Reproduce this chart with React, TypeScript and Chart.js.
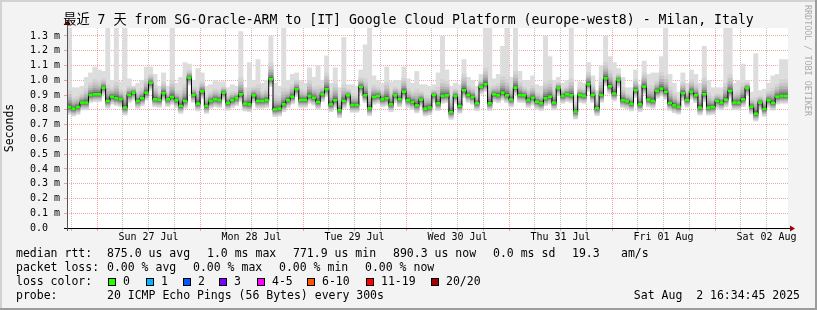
import React, { useEffect, useRef } from "react";
import { Chart, registerables } from "chart.js";

Chart.register(...registerables);

const FONT = "'DejaVu Sans Mono', 'Noto Sans CJK SC', monospace";

const chartTitle =
  "最近 7 天 from SG-Oracle-ARM to [IT] Google Cloud Platform (europe-west8) - Milan, Italy";
const yAxisTitle = "Seconds";
const watermark = "RRDTOOL / TOBI OETIKER";
const dayLabels = ["Sun 27 Jul", "Mon 28 Jul", "Tue 29 Jul", "Wed 30 Jul", "Thu 31 Jul", "Fri 01 Aug", "Sat 02 Aug"];
const firstBinHourOfDay = 17; // first hourly bin starts Jul 26 17:00
const gridStepHours = 6;
const yTickValues = [0, 0.1, 0.2, 0.3, 0.4, 0.5, 0.6, 0.7, 0.8, 0.9, 1.0, 1.1, 1.2, 1.3];
const yMax = 1.354;

// hourly median RTT (ms)
const medianMs = [
  0.819, 0.808, 0.819, 0.849, 0.849, 0.900, 0.905, 0.905, 0.950, 0.860,
  0.889, 0.878, 0.871, 0.815, 0.900, 0.916, 0.860, 0.878, 0.916, 0.982,
  0.871, 0.867, 0.912, 0.871, 0.887, 0.865, 0.826, 0.860, 1.018, 0.900,
  0.842, 0.925, 0.826, 0.860, 0.871, 0.865, 0.916, 0.847, 0.865, 0.878,
  0.905, 0.842,
  0.837, 0.898, 0.860, 0.860, 0.865, 1.007, 0.803, 0.808, 0.837, 0.865,
  0.889, 0.939, 0.867, 0.867, 0.894, 0.882, 0.853, 0.905, 0.939, 0.837,
  0.865, 0.797, 0.860, 0.898, 0.833, 0.833, 0.955, 0.898, 0.810, 0.887,
  0.894, 0.871, 0.878, 0.837, 0.898, 0.871, 0.923, 0.865, 0.853, 0.830,
  0.869, 0.808, 0.815,
  0.900, 0.844, 0.894, 0.898, 0.785, 0.894, 0.826, 0.932, 0.900, 0.887,
  0.844, 0.957, 0.973, 0.844, 0.905, 0.898, 0.916, 0.898, 0.869, 0.950,
  0.900, 0.898, 0.865, 0.882, 0.855, 0.844, 0.878, 0.889, 0.849, 0.946,
  0.894, 0.905, 0.898, 0.788, 0.900, 0.894, 0.973, 0.900, 0.810, 0.900,
  1.013, 0.959, 0.910,
  1.002, 0.865, 0.858, 0.842, 0.932, 0.837, 0.957, 0.869, 0.860, 0.928,
  0.943, 0.921, 0.846, 0.830, 0.821, 0.912, 0.867, 0.923, 0.898, 0.815,
  0.905, 0.815, 0.819, 0.860, 0.849, 0.869, 0.928, 0.849, 0.849, 0.871,
  0.946, 0.821, 0.774, 0.849, 0.806, 0.865, 0.847, 0.889, 0.894, 0.894,
];

// hourly max RTT (ms) - top of the smoke
const maxMs = [
  1.36, 0.95, 0.95, 0.96, 1.02, 1.05, 1.09, 1.07, 1.06, 1.36,
  1.00, 1.36, 0.99, 1.36, 1.01, 0.96, 0.98, 1.00, 1.09, 1.09,
  1.04, 0.96, 1.05, 0.96, 1.36, 0.98, 1.02, 1.12, 1.11, 1.00,
  1.08, 1.05, 0.96, 0.97, 1.00, 0.99, 0.99, 0.95, 0.97, 0.96,
  1.33, 0.95,
  1.12, 1.00, 1.14, 0.98, 1.00, 1.30, 0.98, 0.96, 1.36, 1.00,
  1.04, 1.05, 1.00, 0.98, 1.085, 1.02, 1.10, 1.00, 1.165, 0.98,
  1.085, 0.95, 1.29, 0.97, 0.97, 0.96, 1.07, 1.24, 1.36, 1.03,
  1.00, 0.98, 1.09, 0.99, 1.00, 1.00, 1.09, 1.01, 0.98, 1.06,
  0.97, 0.97, 0.96,
  0.97, 1.05, 1.30, 1.07, 0.96, 0.98, 0.97, 1.14, 1.02, 1.00,
  0.96, 1.04, 1.36, 1.36, 1.01, 1.04, 1.23, 1.36, 1.02, 1.36,
  1.06, 1.00, 1.00, 1.03, 0.97, 0.96, 1.30, 1.16, 1.00, 1.02,
  0.98, 1.00, 1.36, 0.90, 0.99, 0.98, 1.12, 1.03, 0.93, 1.10,
  1.30, 1.16, 1.12,
  1.08, 1.02, 0.95, 0.95, 1.07, 0.97, 1.13, 1.04, 1.05, 1.05,
  1.16, 1.36, 1.04, 0.98, 0.92, 1.05, 0.98, 1.07, 1.04, 0.98,
  1.23, 1.00, 0.95, 0.95, 0.95, 1.36, 1.36, 0.98, 1.00, 1.11,
  1.00, 0.92, 1.18, 0.93, 0.94, 0.98, 1.03, 1.04, 1.14, 1.14,
];

const lossColors = ["#26ff00", "#00b8ff", "#0059ff", "#7e00ff", "#ff00ff", "#ff5500", "#ff0000", "#a10000"];
const lossLabels = ["0", "1", "2", "3", "4-5", "6-10", "11-19", "20/20"];
const rttStats = ["875.0 us avg", "1.0 ms max", "771.9 us min", "890.3 us now", "0.0 ms sd", "19.3", "am/s"];
const lossStats = ["0.00 % avg", "0.00 % max", "0.00 % min", "0.00 % now"];
const probeText = "20 ICMP Echo Pings (56 Bytes) every 300s";
const timestamp = "Sat Aug  2 16:34:45 2025";

// smoke styling (outer -> inner)
const smokeShades = ["#dddddd", "#d3d3d3", "#c6c6c6", "#b5b5b5", "#a0a0a0", "#868686", "#666666"];
const smokeBelow = [0.05, 0.043, 0.036, 0.029, 0.022, 0.015, 0.008];
const smokeAbove = [0, 0.11, 0.085, 0.063, 0.044, 0.028, 0.014];
const medianHalf = 0.009;

const MGRID = "rgba(235,40,40,0.42)";
const GRID = "rgba(120,120,120,0.45)";

export default function App() {
  const ref = useRef<HTMLCanvasElement | null>(null);

  useEffect(() => {
    document.body.style.margin = "0";
    const canvas = ref.current;
    if (!canvas) return;
    const n = medianMs.length;

    const smokeSets = smokeShades.map((color, k) => ({
      type: "bar" as const,
      label: "smoke" + k,
      order: 20 - k,
      grouped: false,
      barPercentage: 1,
      categoryPercentage: 1,
      backgroundColor: color,
      data: medianMs.map((m, i) => {
        const mx = maxMs[i];
        const f = Math.min(1, Math.max(0.35, (mx - m) / 0.2));
        const hi = k === 0 ? mx : Math.min(mx, m + smokeAbove[k] * f);
        return { x: i + 0.5, y: [m - smokeBelow[k], hi] };
      }),
    }));

    const lineSet = {
      type: "line" as const,
      label: "median",
      order: 1,
      borderColor: "#000000",
      borderWidth: 1,
      pointRadius: 0,
      stepped: "before" as const,
      data: [...medianMs.map((m, i) => ({ x: i, y: m })), { x: n, y: medianMs[n - 1] }],
    };

    const greenSet = {
      type: "bar" as const,
      label: "loss0",
      order: 0,
      grouped: false,
      barPercentage: 1,
      categoryPercentage: 1,
      inflateAmount: 0,
      backgroundColor: lossColors[0],
      data: medianMs.map((m, i) => ({ x: i + 0.5, y: [m - medianHalf, m + medianHalf] })),
    };

    const decor = {
      id: "decor",
      beforeDraw(c: any) {
        const ctx = c.ctx;
        const a = c.chartArea;
        ctx.save();
        ctx.fillStyle = "#f3f3f3";
        ctx.fillRect(0, 0, c.width, c.height);
        ctx.fillStyle = "#ffffff";
        ctx.fillRect(a.left, a.top, a.right - a.left, a.bottom - a.top);
        ctx.restore();
      },
      afterDraw(c: any) {
        const ctx = c.ctx;
        const a = c.chartArea;
        ctx.save();
        // axes
        ctx.lineWidth = 1;
        ctx.strokeStyle = "#000000";
        ctx.beginPath();
        ctx.moveTo(a.left - 3, Math.round(a.bottom) + 0.5);
        ctx.lineTo(a.right + 3, Math.round(a.bottom) + 0.5);
        ctx.stroke();
        ctx.strokeStyle = "#555555";
        ctx.beginPath();
        ctx.moveTo(Math.round(a.left) + 0.5, a.bottom + 3);
        ctx.lineTo(Math.round(a.left) + 0.5, a.top - 4);
        ctx.stroke();
        // arrows
        ctx.fillStyle = "#a00000";
        const yb = Math.round(a.bottom) + 0.5;
        ctx.beginPath();
        ctx.moveTo(a.right + 2, yb - 3);
        ctx.lineTo(a.right + 7, yb);
        ctx.lineTo(a.right + 2, yb + 3);
        ctx.closePath();
        ctx.fill();
        const xl = Math.round(a.left) + 0.5;
        ctx.beginPath();
        ctx.moveTo(xl - 3, a.top - 3);
        ctx.lineTo(xl, a.top - 8);
        ctx.lineTo(xl + 3, a.top - 3);
        ctx.closePath();
        ctx.fill();

        // title
        ctx.fillStyle = "#000000";
        ctx.textBaseline = "middle";
        ctx.textAlign = "center";
        ctx.font = `13.2px ${FONT}`;
        ctx.fillText(chartTitle, c.width / 2, 21);

        // watermark
        ctx.save();
        ctx.translate(807, 5);
        ctx.rotate(Math.PI / 2);
        ctx.font = `8.4px ${FONT}`;
        ctx.fillStyle = "#aaaaaa";
        ctx.textAlign = "left";
        ctx.textBaseline = "middle";
        ctx.fillText(watermark, 0, 0);
        ctx.restore();

        // legend
        ctx.font = `11.5px ${FONT}`;
        ctx.textAlign = "left";
        ctx.textBaseline = "middle";
        ctx.fillStyle = "#000000";
        const r1 = 254.5, r2 = 268.5, r3 = 282.5, r4 = 296.5;
        ctx.fillText("median rtt:", 16, r1);
        const rttX = [107, 207, 293, 393, 493, 572, 621];
        rttStats.forEach((t, i) => ctx.fillText(t, rttX[i], r1));
        ctx.fillText("packet loss:", 16, r2);
        const lossX = [107, 193, 279, 365];
        lossStats.forEach((t, i) => ctx.fillText(t, lossX[i], r2));
        ctx.fillText("loss color:", 16, r3);
        const boxX = [108, 146, 183, 219, 257, 307, 366, 431];
        lossLabels.forEach((t, i) => {
          ctx.fillStyle = lossColors[i];
          ctx.fillRect(boxX[i], 278, 8, 8);
          ctx.strokeStyle = "#000000";
          ctx.lineWidth = 1;
          ctx.strokeRect(boxX[i] + 0.5, 278.5, 7, 7);
          ctx.fillStyle = "#000000";
          ctx.fillText(t, boxX[i] + 15, r3);
        });
        ctx.fillText("probe:", 16, r4);
        ctx.fillText(probeText, 107, r4);
        ctx.textAlign = "right";
        ctx.fillText(timestamp, 800, r4);

        // frame
        ctx.fillStyle = "#d2d2d2";
        ctx.fillRect(0, 0, c.width, 2);
        ctx.fillRect(0, 0, 2, c.height);
        ctx.fillStyle = "#9c9c9c";
        ctx.fillRect(0, c.height - 2, c.width, 2);
        ctx.fillRect(c.width - 2, 0, 2, c.height);
        ctx.restore();
      },
    };

    const chart = new Chart(canvas, {
      type: "bar",
      data: { datasets: [greenSet, lineSet, ...smokeSets] as any },
      plugins: [decor],
      options: {
        animation: false,
        responsive: false,
        devicePixelRatio: 1,
        layout: { padding: { left: 0, top: 28, right: 29, bottom: 62 } },
        plugins: { legend: { display: false }, tooltip: { enabled: false }, title: { display: false } },
        scales: {
          x: {
            type: "linear",
            min: 0,
            max: n,
            offset: false,
            z: 1,
            afterFit: (s: any) => {
              s.height = 20;
            },
            afterBuildTicks: (s: any) => {
              const ticks = [];
              for (let h = 0; h <= n; h++) {
                if ((h + firstBinHourOfDay) % gridStepHours === 0) ticks.push({ value: h });
              }
              s.ticks = ticks;
            },
            grid: {
              offset: false,
              lineWidth: 1,
              tickLength: 3,
              color: (ctx: any) =>
                ctx.tick && (ctx.tick.value + firstBinHourOfDay) % 24 === 0 ? MGRID : GRID,
              borderDash: [1, 1],
            } as any,
            border: { display: false, dash: [1, 1] },
            ticks: {
              autoSkip: false,
              maxRotation: 0,
              minRotation: 0,
              padding: 0,
              color: "#000000",
              font: { family: FONT, size: 10 },
              callback: (v: any) => {
                const t = Number(v) + firstBinHourOfDay;
                if (t % 24 !== 12) return "";
                return dayLabels[Math.floor(t / 24) - 1] ?? "";
              },
            },
          },
          y: {
            type: "linear",
            min: 0,
            max: yMax,
            z: 1,
            afterFit: (s: any) => {
              s.width = 67;
            },
            afterBuildTicks: (s: any) => {
              s.ticks = yTickValues.map((v) => ({ value: v }));
            },
            grid: {
              lineWidth: 1,
              tickLength: 3,
              color: MGRID,
              borderDash: [1, 1],
            } as any,
            border: { display: false, dash: [1, 1] },
            ticks: {
              padding: 4,
              color: "#000000",
              font: { family: FONT, size: 10 },
              callback: (v: any) => (Number(v) === 0 ? "0.0  " : Number(v).toFixed(1) + " m"),
            },
            title: {
              display: true,
              text: yAxisTitle,
              color: "#000000",
              font: { family: FONT, size: 11.5 },
              padding: { top: 3, bottom: 0 },
            },
          },
        },
      } as any,
    });
    return () => chart.destroy();
  }, []);

  return (
    <div style={{ position: "fixed", left: 0, top: 0, width: 817, height: 310 }}>
      <canvas ref={ref} width={817} height={310} style={{ display: "block", width: 817, height: 310 }} />
    </div>
  );
}
